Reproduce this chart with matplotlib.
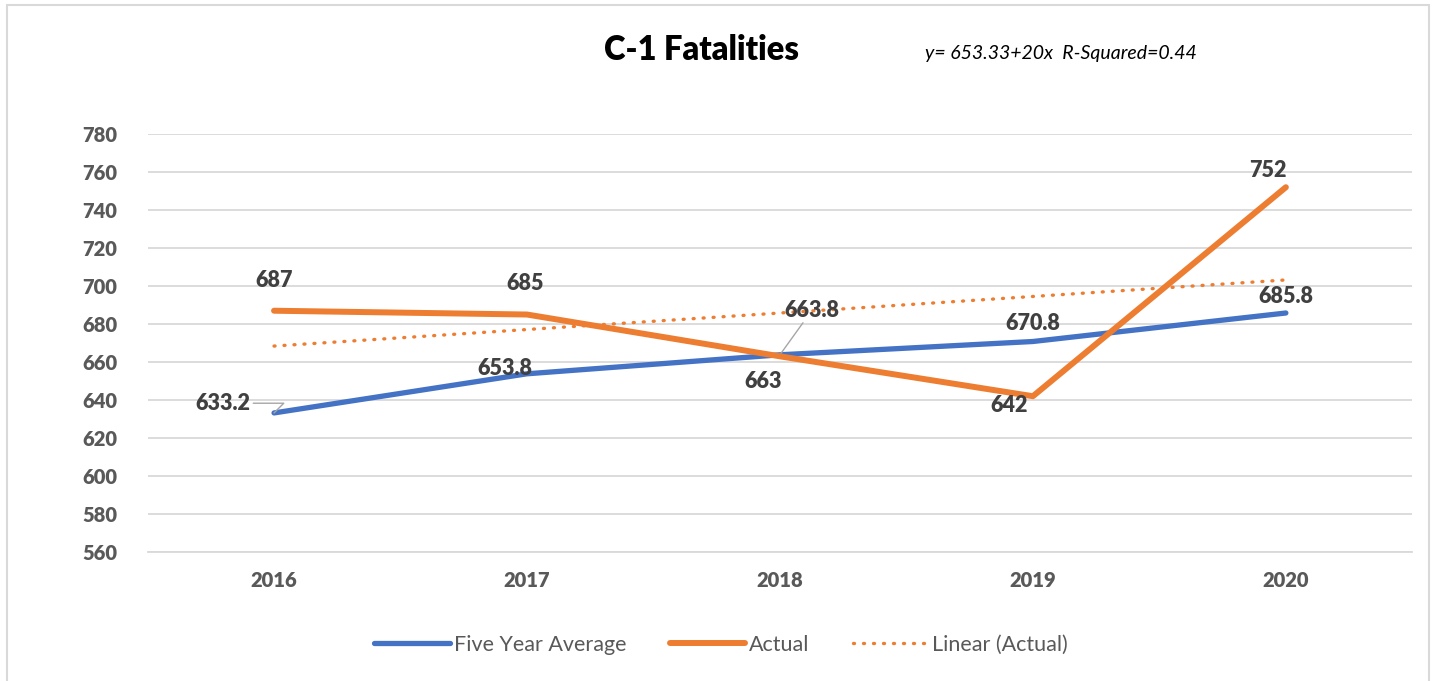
import matplotlib.pyplot as plt
import numpy as np
from matplotlib.patches import Rectangle

plt.rcParams['font.family'] = ['Lato', 'DejaVu Sans']

years = ['2016', '2017', '2018', '2019', '2020']
five_year_avg = [633.2, 653.8, 663.8, 670.8, 685.8]
actual = [687, 685, 663, 642, 752]
yticks = [560, 580, 600, 620, 640, 660, 680, 700, 720, 740, 760, 780]

blue = '#4472C4'
orange = '#ED7D31'
grid = '#D9D9D9'

fig = plt.figure(figsize=(14.34, 6.81), dpi=100)
ax = fig.add_axes([0.1029, 0.1894, 0.882, 0.6138])

x = np.arange(len(years))
ax.plot(x, five_year_avg, color=blue, lw=3.8, solid_capstyle='round',
        solid_joinstyle='round', label='Five Year Average', zorder=3)
ax.plot(x, actual, color=orange, lw=4.3, solid_capstyle='round',
        solid_joinstyle='round', label='Actual', zorder=4)

# linear trend of actual
m, b = np.polyfit(x, actual, 1)
ax.plot(x, m * x + b, color=orange, lw=2.4, linestyle=(0, (0.3, 2.7)),
        dash_capstyle='round', label='Linear (Actual)', zorder=2)

ax.set_xlim(-0.5, len(years) - 0.5)
ax.set_ylim(560, 780)
ax.set_yticks(yticks)
ax.set_xticks(x)
ax.set_xticklabels(years)
ax.tick_params(length=0, labelsize=14.5, labelcolor='#595959', pad=14)
ax.tick_params(axis='y', pad=22)
for lab in ax.get_xticklabels() + ax.get_yticklabels():
    lab.set_fontweight('heavy')
ax.yaxis.grid(True, color=grid, lw=1.3)
ax.set_axisbelow(True)
for s in ['top', 'right', 'left']:
    ax.spines[s].set_visible(False)
ax.spines['bottom'].set_color(grid)
ax.spines['bottom'].set_linewidth(1.3)

lbl = dict(fontsize=15.5, fontweight='heavy', color='#404040', ha='center',
           va='center', textcoords='offset points', zorder=6)
leader = dict(arrowstyle='-', color='#A6A6A6', lw=1, shrinkA=0, shrinkB=0)

avg_offsets = [(-37, 7), (-16, 4), (23, 32), (0, 13), (0, 12)]
act_offsets = [(0, 21.5), (-1.5, 22), (-12, -18), (-17, -6.5), (-13, 12)]

# leader lines
ax.annotate('', (0, five_year_avg[0]), xytext=(-15, 7), textcoords='offset points',
            arrowprops=dict(leader, connectionstyle='angle,angleA=0,angleB=45,rad=0'))
ax.annotate('', (2, five_year_avg[2]), xytext=(23, 32), textcoords='offset points',
            arrowprops=dict(leader, shrinkA=11))

for i, v in enumerate(five_year_avg):
    ax.annotate(f'{v}', (i, v), xytext=avg_offsets[i], **lbl)
for i, v in enumerate(actual):
    ax.annotate(f'{v}', (i, v), xytext=act_offsets[i], **lbl)

fig.text(0.489, 0.927, 'C-1 Fatalities', fontsize=23.5, fontweight='heavy',
         color='black', ha='center', va='center')
fig.text(0.645, 0.922, 'y= 653.33+20x  R-Squared=0.44', fontsize=14,
         style='italic', color='black', ha='left', va='center')

fig.legend(loc='center', bbox_to_anchor=(0.503, 0.053), ncol=3, frameon=False,
           fontsize=15.5, labelcolor='#595959', handlelength=3.5,
           handletextpad=0.2, columnspacing=2.0)

fig.patches.append(Rectangle((7 / 1434, -0.01), 1422 / 1434, 1 - 5 / 681 + 0.01,
                             transform=fig.transFigure, fill=False,
                             edgecolor='#D9D9D9', lw=1.5))

fig.savefig('out.png', dpi=100, facecolor='white')
